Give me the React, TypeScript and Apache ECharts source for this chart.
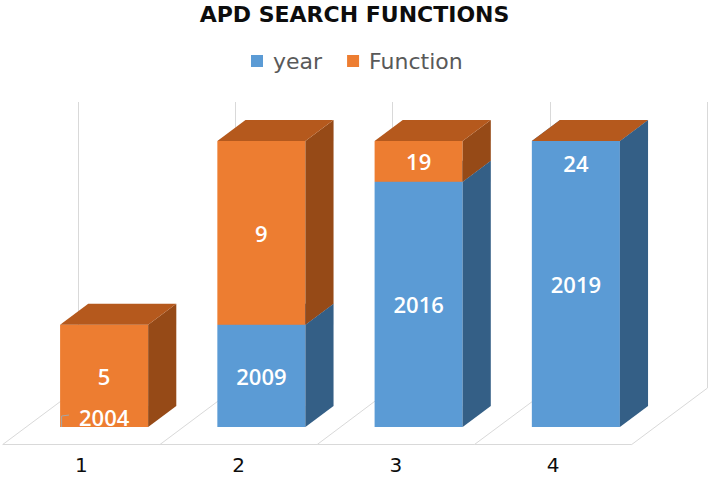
import React, { useEffect, useRef } from 'react';
import * as echarts from 'echarts';

const categories = ['1', '2', '3', '4'];
const yearValues = [2004, 2009, 2016, 2019];
const functionValues = [5, 9, 19, 24];
const Y_MIN = 2004;
const Y_MAX = 2018;

const BLUE = { front: '#5B9BD5', side: '#345F86', top: '#4A7FB3' };
const ORANGE = { front: '#ED7D31', side: '#964A17', top: '#B5591D' };

export default function App() {
  const ref = useRef<HTMLDivElement>(null);
  useEffect(() => {
    const chart = echarts.init(ref.current!, null, { renderer: 'svg' });
    const K = 1.34;
    const FRONT_DY = 17;
    const BACK_DY = -39;
    const BAR_DEPTH = 21;
    const BAR_RATIO = 0.56;
    const GRID_LEFT = 25.5;
    const GRID_RIGHT = 54.5;
    const LABEL_SHIFT = FRONT_DY * K;
    const clampV = (v: number) => Math.min(Y_MAX, Math.max(Y_MIN, v));
    const gridStroke = { stroke: '#d9d9d9', lineWidth: 1 };

    const floorItem = (params: any, api: any) => {
      const i = api.value(0);
      const [cx, y0] = api.coord([i, Y_MIN]);
      const yMaxPx = api.coord([i, Y_MAX])[1];
      const slotW = api.size([1, 0])[0];
      const yf = Math.round(y0 + FRONT_DY) + 0.5;
      const yb = y0 + BACK_DY;
      const wallTop = yMaxPx + BACK_DY;
      const lf = cx - slotW / 2 - FRONT_DY * K;
      const rf = cx + slotW / 2 - FRONT_DY * K;
      const lb = Math.round(cx - slotW / 2 - BACK_DY * K) + 0.5;
      const rb = Math.round(cx + slotW / 2 - BACK_DY * K) + 0.5;
      const children: any[] = [
        { type: 'line', shape: { x1: lf, y1: yf, x2: rf, y2: yf }, style: gridStroke },
        { type: 'line', shape: { x1: lf, y1: yf, x2: lb, y2: yb }, style: gridStroke },
        { type: 'line', shape: { x1: lb, y1: yb, x2: lb, y2: wallTop }, style: gridStroke },
      ];
      if (params.dataIndex === categories.length - 1) {
        children.push(
          { type: 'line', shape: { x1: rf, y1: yf, x2: rb, y2: yb }, style: gridStroke },
          { type: 'line', shape: { x1: rb, y1: yb, x2: rb, y2: wallTop }, style: gridStroke }
        );
      }
      return { type: 'group', children };
    };

    const segGeom = (api: any) => {
      const i = api.value(0);
      const lo = clampV(api.value(1));
      const hi = clampV(api.value(2));
      const cx = api.coord([i, Y_MIN])[0];
      const yB = api.coord([i, lo])[1];
      const yT = api.coord([i, hi])[1];
      const slotW = api.size([1, 0])[0];
      const bw = slotW * BAR_RATIO;
      const h = yB - yT;
      const atBottom = h < 0.5 && lo === Y_MIN;
      return { i, lo, hi, cx, yB, yT, bw, h, atBottom };
    };

    const makeBarItem = (colors: any) => (params: any, api: any) => {
      const { cx, yB, yT, bw, h, atBottom } = segGeom(api);
      const xl = cx - bw / 2;
      const xr = cx + bw / 2;
      const dx = BAR_DEPTH * K;
      const dy = BAR_DEPTH;
      const children: any[] = [];
      if (h >= 0.5) {
        children.push({ type: 'rect', shape: { x: xl, y: yT, width: bw, height: h }, style: { fill: colors.front } });
        children.push({
          type: 'polygon',
          shape: { points: [[xr, yT], [xr + dx, yT - dy], [xr + dx, yB - dy], [xr, yB]] },
          style: { fill: colors.side },
        });
      }
      if (!atBottom) {
        children.push({
          type: 'polygon',
          shape: { points: [[xl, yT], [xr, yT], [xr + dx, yT - dy], [xl + dx, yT - dy]] },
          style: { fill: colors.top },
        });
      }
      return { type: 'group', children };
    };

    const labelItem = (params: any, api: any) => {
      const { cx, yB, yT, bw, h, atBottom } = segGeom(api);
      const xl = cx - bw / 2;
      const children: any[] = [];
      let ly = (yB + yT) / 2;
      if (h < 0.5) {
        if (atBottom) {
          ly = yB - 10;
          children.push({
            type: 'polyline',
            shape: { points: [[xl + 1.5, yB], [xl + 1.5, yB - 11], [xl + 9, yB - 12]] },
            style: { stroke: '#a6a6a6', lineWidth: 1, fill: 'none' },
          });
        } else {
          ly = yT + 22;
        }
      }
      children.push({
        type: 'text',
        x: cx,
        y: ly,
        style: {
          text: String(api.value(3)),
          fill: '#ffffff',
          fontFamily: 'Open Sans',
          fontWeight: 600,
          fontSize: 22,
          align: 'center',
          verticalAlign: 'middle',
        },
      });
      return { type: 'group', children };
    };

    const yearData = categories.map((_, i) => [i, 0, yearValues[i], yearValues[i]]);
    const funcData = categories.map((_, i) => [i, yearValues[i], yearValues[i] + functionValues[i], functionValues[i]]);

    chart.setOption({
      animation: false,
      title: {
        text: 'APD SEARCH FUNCTIONS',
        left: 'center',
        top: -2,
        textStyle: { fontFamily: 'DejaVu Sans', fontWeight: 'bold', fontSize: 22, color: '#0d0d0d' },
      },
      legend: {
        data: ['year', 'Function'],
        left: 246,
        top: 45,
        icon: 'rect',
        itemWidth: 12,
        itemHeight: 12,
        itemGap: 25,
        textStyle: { fontFamily: 'DejaVu Sans', fontSize: 22, color: '#595959', padding: [0, 0, 0, 5] },
      },
      grid: [
        { left: GRID_LEFT, right: GRID_RIGHT, top: 141, bottom: 50 },
        { left: GRID_LEFT - LABEL_SHIFT, right: GRID_RIGHT + LABEL_SHIFT, top: 141, bottom: 50 },
      ],
      xAxis: [
        {
          type: 'category',
          gridIndex: 0,
          data: categories,
          axisLine: { show: false },
          axisTick: { show: false },
          splitLine: { show: false },
          axisLabel: { show: false },
        },
        {
          type: 'category',
          gridIndex: 1,
          data: categories,
          axisLine: { show: false },
          axisTick: { show: false },
          splitLine: { show: false },
          axisLabel: {
            fontFamily: 'DejaVu Sans',
            fontSize: 20,
            color: '#0d0d0d',
            margin: 28,
          },
        },
      ],
      yAxis: [
        { type: 'value', gridIndex: 0, min: Y_MIN, max: Y_MAX, show: false },
        { type: 'value', gridIndex: 1, min: Y_MIN, max: Y_MAX, show: false },
      ],
      series: [
        {
          type: 'custom',
          name: 'floor',
          renderItem: floorItem,
          data: categories.map((_, i) => [i]),
          encode: { x: 0 },
          silent: true,
          z: 1,
        },
        {
          type: 'custom',
          name: 'year',
          renderItem: makeBarItem(BLUE),
          data: yearData,
          encode: { x: 0, y: [1, 2] },
          itemStyle: { color: BLUE.front },
          z: 2,
        },
        {
          type: 'custom',
          name: 'Function',
          renderItem: makeBarItem(ORANGE),
          data: funcData,
          encode: { x: 0, y: [1, 2] },
          itemStyle: { color: ORANGE.front },
          z: 3,
        },
        {
          type: 'custom',
          name: 'labels',
          renderItem: labelItem,
          data: yearData.concat(funcData),
          encode: { x: 0, y: [1, 2] },
          silent: true,
          z: 4,
        },
      ],
    });
    return () => chart.dispose();
  }, []);
  return (
    <div
      ref={ref}
      style={{ position: 'fixed', left: 0, top: 0, width: 709, height: 477, background: '#fff' }}
    />
  );
}
